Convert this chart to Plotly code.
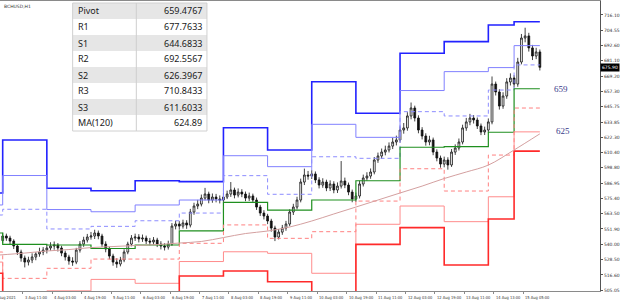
import plotly.graph_objects as go

# ---------------- data ----------------
# H2-aggregated candles; x = hourly bar number counted from 3 Aug 00:00 (weekend gap collapsed)
bar_index = list(range(0, 294, 2))

open_ = [543.0, 546.5, 544.9, 542.6, 538.8, 534.2, 529.6, 526.5, 528.1, 530.4,
         532.7, 534.2, 535.7, 537.3, 538.8, 539.6, 537.3, 533.4, 530.4, 527.3,
         526.5, 535.7, 540.3, 543.4, 545.7, 546.5, 548.8, 546.5, 540.3, 536.5,
         531.1, 526.5, 525.0, 528.1, 534.2, 540.3, 544.9, 545.7, 544.2, 544.9,
         542.6, 541.9, 543.4, 540.3, 538.8, 538.0, 540.3, 554.1, 555.7, 554.1,
         556.5, 554.9, 564.9, 569.5, 571.0, 575.6, 578.7, 574.1, 576.4, 574.9,
         574.1, 576.4, 578.7, 581.8, 577.9, 580.2, 578.7, 575.6, 577.2, 574.1,
         568.7, 564.1, 561.8, 558.0, 552.6, 545.7, 549.5, 552.6, 555.7, 564.9,
         568.7, 574.1, 587.9, 593.3, 592.5, 594.1, 589.5, 585.6, 587.9, 583.3,
         586.4, 581.8, 584.8, 588.7, 585.6, 580.2, 574.9, 577.2, 586.4, 591.0,
         592.5, 595.6, 604.8, 607.9, 610.9, 612.5, 615.5, 618.6, 620.2, 627.8,
         629.4, 638.6, 644.7, 637.0, 627.8, 623.2, 618.6, 620.2, 610.9, 606.3,
         601.7, 604.8, 601.0, 610.9, 614.0, 618.6, 629.4, 634.0, 637.0, 635.5,
         630.9, 626.3, 627.8, 634.0, 663.1, 657.0, 646.2, 653.9, 664.7, 667.7,
         663.1, 680.0, 698.4, 700.0, 690.8, 684.6, 687.7]

high = [549.0, 548.3, 546.7, 544.0, 540.2, 536.0, 531.5, 530.6, 533.2, 534.1,
        537.5, 538.0, 539.6, 541.7, 542.3, 541.1, 539.0, 535.2, 532.1, 530.2,
        537.4, 542.6, 545.9, 548.1, 549.6, 551.3, 550.7, 548.2, 542.4, 538.3,
        532.9, 529.4, 530.5, 536.3, 542.1, 547.2, 548.3, 547.9, 547.6, 546.8,
        545.0, 545.7, 545.1, 542.5, 541.0, 542.9, 556.4, 558.2, 557.9, 559.0,
        558.6, 567.3, 572.0, 574.2, 578.3, 583.4, 580.5, 579.1, 578.8, 577.6,
        579.4, 581.3, 587.9, 583.6, 583.0, 582.4, 580.6, 579.8, 579.0, 576.0,
        570.4, 566.3, 563.5, 559.7, 554.4, 551.8, 555.0, 558.1, 567.0, 571.2,
        576.6, 590.5, 598.2, 596.4, 597.0, 596.0, 591.6, 590.8, 589.7, 589.2,
        588.5, 587.6, 604.0, 591.3, 587.5, 582.1, 579.8, 588.9, 593.6, 595.4,
        598.3, 607.1, 610.5, 613.6, 615.8, 618.3, 621.9, 623.5, 630.6, 633.2,
        641.5, 648.9, 646.5, 639.1, 630.0, 625.3, 623.4, 622.0, 613.0, 608.2,
        607.4, 606.9, 613.2, 616.8, 621.3, 631.9, 637.1, 640.2, 639.3, 637.4,
        632.8, 630.4, 636.7, 668.9, 665.0, 659.1, 656.8, 667.6, 671.3, 669.9,
        683.2, 701.5, 706.3, 702.4, 693.1, 690.9, 689.6]

low = [541.2, 542.8, 540.1, 536.5, 531.9, 526.8, 522.4, 523.9, 525.7, 527.9,
       530.6, 531.8, 533.1, 535.2, 536.0, 534.6, 531.0, 527.7, 524.5, 523.6,
       524.9, 533.8, 538.2, 541.5, 543.7, 544.2, 544.0, 538.1, 534.0, 528.6,
       523.7, 522.1, 523.2, 526.4, 532.5, 538.6, 542.7, 541.6, 542.0, 540.3,
       539.4, 539.8, 538.0, 536.2, 535.4, 536.1, 538.9, 551.6, 551.3, 552.2,
       552.0, 553.1, 562.8, 567.1, 569.2, 573.9, 571.6, 572.0, 572.3, 571.5,
       572.2, 574.8, 576.5, 575.4, 576.1, 576.3, 573.2, 573.4, 571.8, 566.5,
       561.9, 559.2, 555.6, 549.8, 542.6, 543.9, 547.4, 550.5, 554.0, 562.6,
       566.9, 572.3, 585.6, 589.7, 590.2, 587.1, 583.0, 583.5, 580.9, 581.0,
       579.3, 579.5, 582.9, 583.2, 577.8, 572.4, 572.6, 575.3, 584.5, 588.9,
       590.4, 593.8, 602.6, 605.7, 608.4, 610.6, 613.2, 616.0, 618.1, 625.0,
       627.3, 636.0, 634.4, 625.3, 620.6, 615.8, 616.1, 608.5, 603.8, 598.9,
       599.2, 597.4, 599.5, 608.7, 612.1, 616.8, 627.2, 631.5, 632.8, 628.6,
       623.9, 624.0, 625.9, 632.2, 654.3, 643.5, 644.1, 651.8, 662.0, 660.4,
       661.0, 678.2, 695.1, 688.0, 681.5, 682.2, 673.5]

close = [546.5, 544.9, 542.6, 538.8, 534.2, 529.6, 526.5, 528.1, 530.4, 532.7,
         534.2, 535.7, 537.3, 538.8, 539.6, 537.3, 533.4, 530.4, 527.3, 526.5,
         535.7, 540.3, 543.4, 545.7, 546.5, 548.8, 546.5, 540.3, 536.5, 531.1,
         526.5, 525.0, 528.1, 534.2, 540.3, 544.9, 545.7, 544.2, 544.9, 542.6,
         541.9, 543.4, 540.3, 538.8, 538.0, 540.3, 554.1, 555.7, 554.1, 556.5,
         554.9, 564.9, 569.5, 571.0, 575.6, 578.7, 574.1, 576.4, 574.9, 574.1,
         576.4, 578.7, 581.8, 577.9, 580.2, 578.7, 575.6, 577.2, 574.1, 568.7,
         564.1, 561.8, 558.0, 552.6, 545.7, 549.5, 552.6, 555.7, 564.9, 568.7,
         574.1, 587.9, 593.3, 592.5, 594.1, 589.5, 585.6, 587.9, 583.3, 586.4,
         581.8, 584.8, 588.7, 585.6, 580.2, 574.9, 577.2, 586.4, 591.0, 592.5,
         595.6, 604.8, 607.9, 610.9, 612.5, 615.5, 618.6, 620.2, 627.8, 629.4,
         638.6, 644.7, 637.0, 627.8, 623.2, 618.6, 620.2, 610.9, 606.3, 601.7,
         604.8, 601.0, 610.9, 614.0, 618.6, 629.4, 634.0, 637.0, 635.5, 630.9,
         626.3, 627.8, 634.0, 663.1, 657.0, 646.2, 653.9, 664.7, 667.7, 663.1,
         680.0, 698.4, 700.0, 690.8, 684.6, 687.7, 675.9]

# daily pivot levels (2 Aug .. 15 Aug), day start bar numbers
day_start = [-2, 0, 24, 48, 72, 96, 120, 144, 168, 192, 216, 240, 264, 278]
last_bar = 292
R3 = [579.5, 620.2, 583.1, 581.2, 588.9, 588.2, 629.6, 612.5, 664.9, 640.7, 686.7, 695.6, 708.4, 710.84]
R2 = [570.3, 592.9, 566.8, 565.1, 570.3, 574.1, 608.1, 599.7, 632.2, 622.2, 658.1, 672.6, 675.7, 692.56]
R1 = [562.6, 567.0, 551.9, 553.9, 558.2, 564.1, 592.8, 578.5, 607.3, 606.1, 641.9, 638.6, 658.5, 677.76]
PP = [548.8, 540.1, 539.6, 536.9, 539.6, 550.5, 572.3, 566.4, 574.1, 588.9, 614.6, 615.0, 626.1, 659.48]
S1 = [534.2, 514.0, 521.7, 528.8, 528.8, 540.9, 555.0, 544.7, 549.8, 573.3, 598.1, 581.0, 608.6, 644.68]
S2 = [526.5, 487.3, 504.4, 513.2, 510.2, 526.9, 534.4, 533.2, 517.9, 555.5, 569.5, 557.5, 576.6, 626.40]
S3 = [517.9, 461.0, 491.7, 500.6, 498.0, 515.8, 519.6, 511.4, 492.8, 540.1, 552.9, 524.2, 559.5, 611.60]

# MA(120)
ma_bar = [-2, 12, 24, 36, 48, 60, 72, 84, 96, 108, 120, 132, 144, 156, 168, 180,
          192, 204, 216, 228, 240, 252, 264, 278, 292]
ma_value = [531.9, 533.4, 535.0, 536.1, 537.6, 538.4, 539.2, 539.9, 541.1, 542.3,
            545.3, 548.4, 550.3, 553.4, 558.0, 563.4, 568.7, 574.1, 579.5, 584.8,
            590.6, 595.6, 600.9, 612.5, 624.89]

# table
table_names = ["Pivot", "R1", "S1", "R2", "S2", "R3", "S3", "MA(120)"]
table_values = ["659.4767", "677.7633", "644.6833", "692.5567", "626.3967",
                "710.8433", "611.6033", "624.89"]

# axes
y_tick_values = [716.10, 704.55, 692.60, 681.10, 669.20, 657.30, 645.75, 633.85, 622.30,
                 610.40, 598.80, 586.95, 575.40, 563.50, 551.90, 540.00, 528.50, 516.60, 505.05]
x_tick_bars = [-5, 11, 27, 43, 59, 75, 91, 107, 123, 139, 155, 171, 187, 203, 219, 235, 251, 267, 283]
x_tick_labels = ["2 Aug 2021", "3 Aug 11:00", "4 Aug 03:00", "4 Aug 19:00", "5 Aug 11:00",
                 "6 Aug 03:00", "6 Aug 19:00", "7 Aug 11:00", "8 Aug 03:00", "8 Aug 19:00",
                 "9 Aug 11:00", "10 Aug 03:00", "10 Aug 19:00", "11 Aug 11:00", "12 Aug 03:00",
                 "12 Aug 19:00", "13 Aug 11:00", "14 Aug 13:00", "15 Aug 05:00"]
last_price = 675.90

# ---------------- figure ----------------
W, H = 620, 301
ML, MR, MT, MB = 0, 17, 1, 10
PW, PH = W - ML - MR, H - MT - MB
x_range = [-1.46, 324.7]
y_range = [504.3, 726.8]

fig = go.Figure()

levels = [
    (R3, "#2222ff", 1.6, "solid"),
    (R2, "#8080ff", 1.0, "solid"),
    (R1, "#8c8cff", 1.0, "dash"),
    (PP, "#1f8f1f", 1.2, "solid"),
    (S1, "#ff8080", 1.0, "dash"),
    (S2, "#ff8c8c", 1.0, "solid"),
    (S3, "#ff2a2a", 1.6, "solid"),
]
for vals, col, w, dash in levels:
    fig.add_trace(go.Scatter(x=day_start + [last_bar], y=vals + [vals[-1]], mode="lines",
                             line=dict(color=col, width=w, dash="4px,3px" if dash == "dash" else "solid",
                                       shape="hv"),
                             hoverinfo="skip", showlegend=False))

fig.add_trace(go.Scatter(x=ma_bar, y=ma_value, mode="lines",
                         line=dict(color="#d4a0a0", width=1, shape="spline"),
                         hoverinfo="skip", showlegend=False))

fig.add_trace(go.Candlestick(x=bar_index, open=open_, high=high, low=low, close=close,
                             increasing=dict(line=dict(color="#111111", width=0.8), fillcolor="#ffffff"),
                             decreasing=dict(line=dict(color="#111111", width=0.8), fillcolor="#111111"),
                             whiskerwidth=0, showlegend=False, hoverinfo="skip"))

def xp(px):
    return px / PW

def yp(py):
    return 1 - (py - MT) / PH

shapes = []
annotations = []

# table
tx0, tx1, tdiv = 73, 208, 137
row_top, row_h = 3, 16
for i, (name, val) in enumerate(zip(table_names, table_values)):
    t = row_top + i * row_h
    shapes.append(dict(type="rect", xref="paper", yref="paper", x0=xp(tx0), x1=xp(tx1),
                       y0=yp(t + row_h), y1=yp(t), fillcolor="#e6e6e6" if i % 2 == 0 else "#ffffff",
                       line=dict(width=0), layer="above"))
    annotations.append(dict(xref="paper", yref="paper", x=xp(tx0 + 3), y=yp(t + row_h / 2),
                            text=name, showarrow=False, xanchor="left", yanchor="middle",
                            font=dict(family="Noto Sans", size=9, color="#1a1a1a")))
    annotations.append(dict(xref="paper", yref="paper", x=xp(tx1 - 3), y=yp(t + row_h / 2),
                            text=val, showarrow=False, xanchor="right", yanchor="middle",
                            font=dict(family="Noto Sans", size=9, color="#1a1a1a")))
t_end = row_top + len(table_names) * row_h
shapes.append(dict(type="line", xref="paper", yref="paper", x0=xp(tdiv), x1=xp(tdiv),
                   y0=yp(t_end), y1=yp(row_top), line=dict(color="#cfcfcf", width=1), layer="above"))
shapes.append(dict(type="rect", xref="paper", yref="paper", x0=xp(tx0), x1=xp(tx1),
                   y0=yp(t_end), y1=yp(row_top), line=dict(color="#d0d0d0", width=1), layer="above"))

# x tick labels (left aligned at tick, MT4 style)
for b, lab in zip(x_tick_bars, x_tick_labels):
    annotations.append(dict(xref="paper", yref="paper",
                            x=(b - x_range[0]) / (x_range[1] - x_range[0]), y=0,
                            yshift=-2, text=lab, showarrow=False, xanchor="left", yanchor="top",
                            font=dict(family="DejaVu Sans Condensed, DejaVu Sans", size=4, color="#333333")))

# right-side level labels
annotations.append(dict(x=303.6, y=PP[-1], text="659", showarrow=False,
                        font=dict(family="Liberation Serif", size=9, color="#3a3a8a")))
annotations.append(dict(x=304.6, y=ma_value[-1], yshift=3, text="625", showarrow=False,
                        font=dict(family="Liberation Serif", size=9, color="#3a3a8a")))

# current price box
annotations.append(dict(xref="paper", x=1.0, y=last_price, xanchor="left", yanchor="middle",
                        text="675.90", showarrow=False, bgcolor="#000000", borderpad=1,
                        font=dict(family="DejaVu Sans", size=4.5, color="#ffffff")))

# symbol caption
annotations.append(dict(xref="paper", yref="paper", x=xp(2), y=yp(2), xanchor="left", yanchor="top",
                        text="BCHUSD,H1", showarrow=False,
                        font=dict(family="DejaVu Sans", size=4.5, color="#333333")))

fig.update_layout(
    width=W, height=H, margin=dict(l=ML, r=MR, t=MT, b=MB),
    paper_bgcolor="#ffffff", plot_bgcolor="#ffffff",
    shapes=shapes, annotations=annotations, showlegend=False,
    xaxis=dict(range=x_range, showgrid=False, zeroline=False, showline=True, mirror=True,
               linecolor="#8a8a8a", linewidth=1, tickvals=x_tick_bars, ticks="outside",
               ticklen=2, tickcolor="#8a8a8a", showticklabels=False,
               rangeslider=dict(visible=False), fixedrange=True),
    yaxis=dict(range=y_range, side="right", showgrid=False, zeroline=False, showline=True,
               linecolor="#555555", linewidth=1, tickvals=y_tick_values,
               ticktext=[f"{v:.2f}" for v in y_tick_values], ticks="outside", ticklen=2,
               tickcolor="#555555", tickfont=dict(family="DejaVu Sans", size=4.5, color="#333333"),
               fixedrange=True),
)

fig.write_html("out.html", config={"displayModeBar": False})
